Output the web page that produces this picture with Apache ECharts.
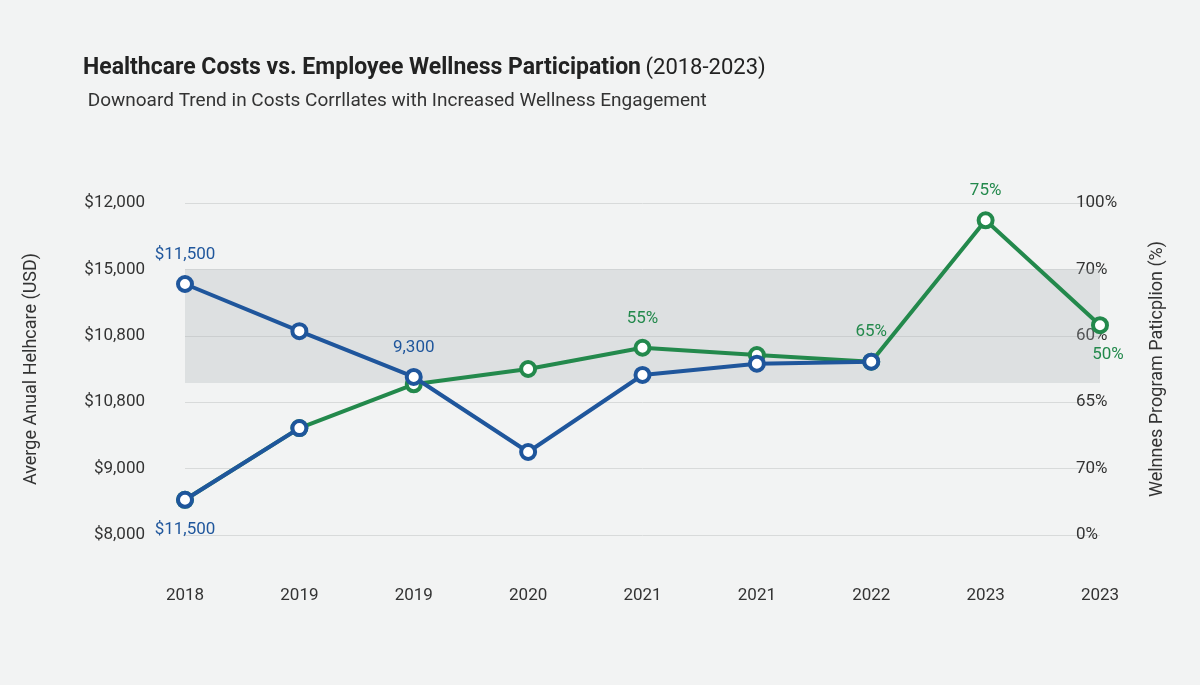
<!DOCTYPE html>
<html><head><meta charset="utf-8">
<script src="https://cdn.jsdelivr.net/npm/echarts@6/dist/echarts.min.js"></script>
<style>html,body{margin:0;padding:0;background:#f2f3f3}#c{width:1200px;height:685px}</style>
</head><body><div id="c"></div>
<script>
const categories = ['2018','2019','2019','2020','2021','2021','2022','2023','2023'];
const leftTicks = ['$8,000','$9,000','$10,800','$10,800','$15,000','$12,000'];
const rightTicks = ['0%','70%','65%','60%','70%','100%'];
const costs = [3.78, 3.07, 2.38, 1.25, 2.41, 2.58, 2.61, null, null];
const wellness = [0.53, 1.61, 2.27, 2.5, 2.82, 2.71, 2.61, 4.74, 3.16];
const startSeg = [0.53, 1.61];
const labelsCost = ['$11,500', '', '9,300', '', '', '', '', '', ''];
const labelsWell = ['$11,500', '', '', '', '55%', '', '65%', '75%', '50%'];
const BLUE = '#1f569c', GREEN = '#23894c';
const ch = echarts.init(document.getElementById('c'));
const mk = (vals, labs, color, pos) => vals.map((v, i) => ({
  value: v,
  label: labs[i] ? {show: true, formatter: labs[i], position: pos, color: color, fontSize: 17, distance: 12} : {show: false}
}));
const wd = mk(wellness, labelsWell, GREEN, 'top');
wd[0].label.position = 'bottom'; wd[0].label.color = BLUE;
wd[8].label.position = 'bottom'; wd[8].label.offset = [8, 0];
ch.setOption({
  backgroundColor: '#f2f3f3',
  textStyle: {fontFamily: 'Roboto'},
  title: {text: '{b|Healthcare Costs vs. Employee Wellness Participation} {n|(2018-2023)}',
    subtext: ' Downoard Trend in Costs Corrllates with Increased Wellness Engagement',
    left: 78, top: 52,
    textStyle: {rich: {b: {fontSize: 23, fontWeight: 'bold', color: '#222'}, n: {fontSize: 22, fontWeight: 'normal', color: '#222'}}},
    subtextStyle: {fontSize: 19, color: '#333'}, itemGap: 12},
  grid: {left: 185, right: 100, top: 203, bottom: 150},
  xAxis: {type: 'category', data: categories, boundaryGap: false,
    axisLine: {show: false}, axisTick: {show: false},
    axisLabel: {color: '#333', fontSize: 17, margin: 52}},
  yAxis: [{type: 'value', min: 0, max: 5, interval: 1,
    name: 'Averge Anual Helhcare (USD)', nameLocation: 'middle', nameGap: 145,
    nameTextStyle: {fontSize: 18, color: '#333'},
    axisLabel: {formatter: v => leftTicks[v], color: '#333', fontSize: 17, margin: 40},
    splitLine: {lineStyle: {color: '#d8dada'}}},
   {type: 'value', min: 0, max: 5, interval: 1, position: 'right',
    name: 'Welnnes Program Paticplion (%)', nameLocation: 'middle', nameGap: 48,
    nameTextStyle: {fontSize: 18, color: '#333'},
    axisLabel: {formatter: v => rightTicks[v], color: '#333', fontSize: 17, margin: -24},
    splitLine: {show: false}}],
  series: [
    {type: 'line', data: mk(costs, labelsCost, BLUE, 'top'), symbol: 'circle', symbolSize: 14,
     lineStyle: {width: 4, color: BLUE}, itemStyle: {color: '#fff', borderColor: BLUE, borderWidth: 4}, z: 3,
     markArea: {silent: true, itemStyle: {color: 'rgba(170,175,180,0.28)'}, data: [[{yAxis: 2.29}, {yAxis: 4}]]}},
    {type: 'line', data: wd, symbol: 'circle', symbolSize: 14,
     lineStyle: {width: 4, color: GREEN}, itemStyle: {color: '#fff', borderColor: GREEN, borderWidth: 4}, z: 2},
    {type: 'line', data: startSeg, symbol: 'circle', symbolSize: 14, showSymbol: true,
     lineStyle: {width: 4, color: BLUE}, itemStyle: {color: '#fff', borderColor: BLUE, borderWidth: 4}, z: 4}
  ]
});
</script></body></html>
